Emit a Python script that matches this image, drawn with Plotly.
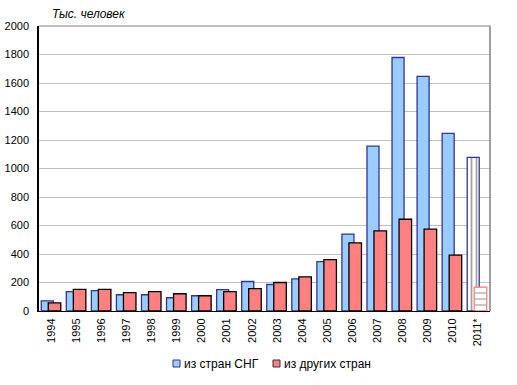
import plotly.graph_objects as go

years = ["1994", "1995", "1996", "1997", "1998", "1999", "2000", "2001", "2002",
         "2003", "2004", "2005", "2006", "2007", "2008", "2009", "2010", "2011*"]
cis = [71, 136, 143, 114, 114, 93, 107, 150, 207, 186, 226, 347, 540, 1157, 1779, 1646, 1246, 1078]
other = [57, 152, 152, 129, 136, 121, 107, 136, 157, 200, 240, 360, 478, 562, 644, 574, 392, 168]
series_names = ["из стран СНГ", "из других стран"]

n = len(years)
last = n - 1

blue_fill = ["#99CCFF"] * n
blue_fill[last] = "#FFFFFF"
blue_shape = [""] * n
blue_shape[last] = "|"
red_fill = ["#FF8080"] * n
red_fill[last] = "#FFFFFF"
red_line = ["#000000"] * n
red_line[last] = "#FF8080"
red_shape = [""] * n
red_shape[last] = "-"

fig = go.Figure()
fig.add_trace(go.Bar(
    x=years, y=cis, name=series_names[0],
    offset=-0.41, width=0.48,
    marker=dict(color=blue_fill, line=dict(color="#333399", width=1.3),
                pattern=dict(shape=blue_shape, fgcolor="#88BBFF", bgcolor="#FFFFFF",
                             size=5, solidity=0.35)),
))
fig.add_trace(go.Bar(
    x=years, y=other, name=series_names[1],
    offset=-0.13, width=0.5,
    marker=dict(color=red_fill, line=dict(color=red_line, width=1.3),
                pattern=dict(shape=red_shape, fgcolor="#FF8080", bgcolor="#FFFFFF",
                             size=6, solidity=0.2)),
))

fig.update_layout(
    width=517, height=385,
    margin=dict(l=39, r=27, t=26, b=74, autoexpand=False),
    barmode="overlay",
    plot_bgcolor="white", paper_bgcolor="white",
    font=dict(family="Liberation Sans, Arial", size=11, color="#000000"),
    showlegend=False,
    xaxis=dict(tickangle=-90, showline=True, linecolor="#000000", linewidth=1,
               showgrid=False, ticks="", range=[-0.5, n - 0.5], ticklabelstandoff=2),
    yaxis=dict(range=[0, 2000], dtick=200, showline=True, linecolor="#000000", linewidth=1.5,
               gridcolor="#C0C0C0", gridwidth=1, ticks="", zeroline=False,
               tickfont=dict(size=11), ticklabelstandoff=6),
)
fig.add_shape(type="line", xref="paper", yref="paper", x0=1, x1=1, y0=0, y1=1,
              line=dict(color="#808080", width=1.5))
fig.add_shape(type="line", xref="paper", yref="paper", x0=0, x1=1, y0=1, y1=1,
              line=dict(color="#808080", width=1))
fig.add_annotation(text="<i>Тыс. человек</i>", xref="paper", yref="paper",
                   x=0.025, y=1.0, xanchor="left", yanchor="bottom", yshift=3,
                   showarrow=False, font=dict(size=12))

# custom legend (reference pixel positions converted to paper coordinates)
def px_x(p):
    return (p - 39) / 451.0

def px_y(p):
    return (311 - p) / 285.0

legend_items = [(173, "#99CCFF", "#333399", series_names[0]),
                (273, "#FF8080", "#333333", series_names[1])]
for x0, fill, edge, label in legend_items:
    fig.add_shape(type="rect", xref="paper", yref="paper",
                  x0=px_x(x0), x1=px_x(x0 + 7), y0=px_y(367), y1=px_y(360),
                  fillcolor=fill, line=dict(color=edge, width=1))
    fig.add_annotation(text=label, xref="paper", yref="paper",
                       x=px_x(x0 + 9), y=px_y(363.5), xanchor="left", yanchor="middle",
                       showarrow=False, font=dict(size=12))

fig.write_html("out.html", config={"displayModeBar": False},
               post_script="document.body.style.margin='0';")
